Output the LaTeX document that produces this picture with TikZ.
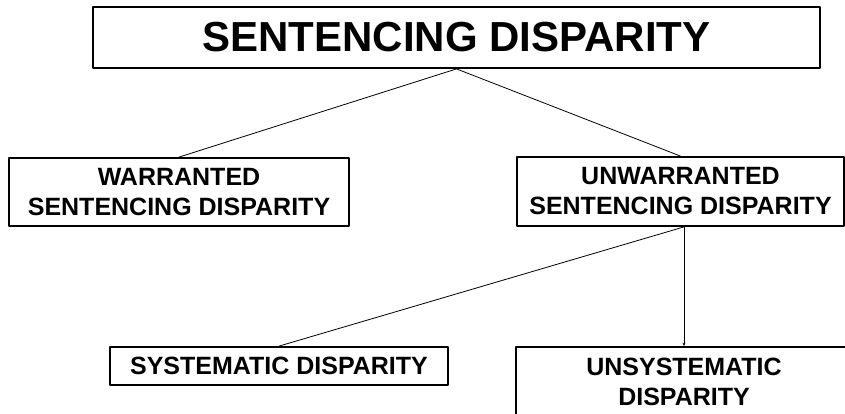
\documentclass[tikz,border=0pt]{standalone}
\usepackage{fontspec}
\setmainfont{Liberation Sans}
\usetikzlibrary{arrows.meta}
\begin{document}
\begin{tikzpicture}[x=1pt, y=-1pt, line join=round, >={Stealth[length=3.5pt,width=3pt]},
		box/.style={draw, line width=1.8pt, inner sep=0pt, align=center, font=\bfseries\fontsize{25}{30}\selectfont},
		link/.style={line width=0.8pt}]
			\useasboundingbox (0,0) rectangle (845,414);
			\clip (0,0) rectangle (845,414);
			\node[box, minimum width=727pt, minimum height=61pt, font=\bfseries\fontsize{42}{48}\selectfont] (disp) at (456.5,37.5) {SENTENCING DISPARITY};
			\node[box, minimum width=340pt, minimum height=68pt] (warr) at (179,192) {WARRANTED\\SENTENCING DISPARITY};
			\node[box, minimum width=327pt, minimum height=69pt] (unwarr) at (680.5,191.5) {UNWARRANTED\\SENTENCING DISPARITY};
			\node[box, minimum width=338pt, minimum height=38pt] (sys) at (279,366) {SYSTEMATIC DISPARITY};
			\node[box, minimum width=336pt, minimum height=69pt] (unsys) at (684,381.5) {UNSYSTEMATIC\\DISPARITY};
			\coordinate (split) at (unwarr.south -| unsys.north);
			\draw[link] (disp.south)--(warr.north);
			\draw[link] (disp.south)--(unwarr.north);
			\draw[link] (split)--(sys.north);
			\draw[link,->] (split)--(unsys.north);
		\end{tikzpicture}
\end{document}
